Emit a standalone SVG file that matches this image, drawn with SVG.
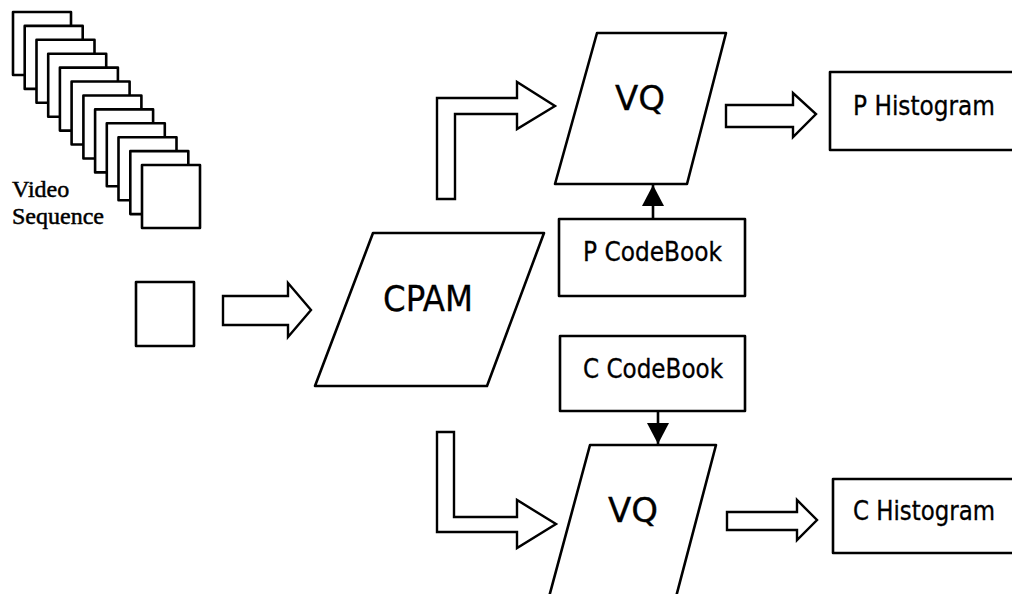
<svg xmlns="http://www.w3.org/2000/svg" width="1012" height="594" viewBox="0 0 1012 594">
  <style>
    .shape { fill: #fff; stroke: #000; stroke-width: 2.6; stroke-linejoin: round; }
    .block { fill: #fff; stroke: #000; stroke-width: 2.4; stroke-linejoin: miter; }
    .line { fill: none; stroke: #000; stroke-width: 2.6; }
    .lbl { font-family: "DejaVu Sans Condensed", "DejaVu Sans", Tahoma, sans-serif; fill: #000; stroke: #000; stroke-width: 0.3; }
    .serif { font-family: "Liberation Serif", "Times New Roman", serif; font-size: 24px; fill: #000; stroke: #000; stroke-width: 0.5; }
  </style>
  <defs>
    <marker id="head" markerUnits="userSpaceOnUse" markerWidth="22" markerHeight="22" refX="21" refY="11" orient="auto">
      <path d="M0,0 L21,11 L0,22 Z" fill="#000"/>
    </marker>
  </defs>

  <rect width="1012" height="594" fill="#fff"/>

  <!-- stack of video frames -->
  <g id="video-sequence">
    <rect class="shape" x="13" y="12" width="58" height="63"/>
    <rect class="shape" x="24.7" y="25.9" width="58" height="63"/>
    <rect class="shape" x="36.5" y="39.8" width="58" height="63"/>
    <rect class="shape" x="48.2" y="53.7" width="58" height="63"/>
    <rect class="shape" x="59.9" y="67.6" width="58" height="63"/>
    <rect class="shape" x="71.6" y="81.5" width="58" height="63"/>
    <rect class="shape" x="83.4" y="95.5" width="58" height="63"/>
    <rect class="shape" x="95.1" y="109.4" width="58" height="63"/>
    <rect class="shape" x="106.8" y="123.3" width="58" height="63"/>
    <rect class="shape" x="118.5" y="137.2" width="58" height="63"/>
    <rect class="shape" x="130.3" y="151.1" width="58" height="63"/>
    <rect class="shape" x="142" y="165" width="58" height="63"/>
    <text class="serif" x="12" y="197">Video</text>
    <text class="serif" x="12" y="224">Sequence</text>
  </g>

  <!-- single frame -->
  <g id="frame">
    <rect class="shape" x="136" y="282" width="58" height="64"/>
  </g>

  <g id="cpam">
    <polygon class="shape" points="373,233 544,233 487,386 315,386"/>
    <text class="lbl" x="383" y="311" font-size="36" textLength="90" lengthAdjust="spacingAndGlyphs">CPAM</text>
  </g>

  <g id="vq-p">
    <polygon class="shape" points="597,33 726,33 687,184 555,184"/>
    <text class="lbl" x="615" y="110" font-size="34" textLength="50" lengthAdjust="spacingAndGlyphs">VQ</text>
  </g>

  <g id="vq-c">
    <polygon class="shape" points="590,445 716,445 676,597 549,597"/>
    <text class="lbl" x="608" y="522" font-size="34" textLength="50" lengthAdjust="spacingAndGlyphs">VQ</text>
  </g>

  <g id="p-codebook">
    <rect class="shape" x="559" y="219" width="186" height="77"/>
    <text class="lbl" x="583" y="261" font-size="26" textLength="139" lengthAdjust="spacingAndGlyphs">P CodeBook</text>
  </g>

  <g id="c-codebook">
    <rect class="shape" x="560" y="336" width="185" height="75"/>
    <text class="lbl" x="583" y="378" font-size="26" textLength="140" lengthAdjust="spacingAndGlyphs">C CodeBook</text>
  </g>

  <g id="p-histogram">
    <rect class="shape" x="830" y="72" width="184" height="78"/>
    <text class="lbl" x="853" y="115" font-size="27" textLength="142" lengthAdjust="spacingAndGlyphs">P Histogram</text>
  </g>

  <g id="c-histogram">
    <rect class="shape" x="833" y="479" width="181" height="74"/>
    <text class="lbl" x="853" y="520" font-size="27" textLength="142" lengthAdjust="spacingAndGlyphs">C Histogram</text>
  </g>

  <g id="connectors">
    <!-- frame to CPAM -->
    <polygon class="block" points="223,296 288,296 288,283 311,310 288,337 288,325 223,325"/>
    <!-- CPAM up to VQ (P) -->
    <polygon class="block" points="437,199 437,98 517,98 517,82 555,106 517,129 517,114 455,114 455,199"/>
    <!-- CPAM down to VQ (C) -->
    <polygon class="block" points="437,432 454,432 454,517 517,517 517,500 556,524 517,548 517,532 437,532"/>
    <!-- VQ (P) to P Histogram -->
    <polygon class="block" points="726,105 793,105 793,93 816,114 793,137 793,127 726,127"/>
    <!-- VQ (C) to C Histogram -->
    <polygon class="block" points="727,512 797,512 797,500 817,520 797,540 797,530 727,530"/>
    <!-- codebooks feeding the quantisers -->
    <line class="line" x1="653" y1="219" x2="653" y2="185" marker-end="url(#head)"/>
    <line class="line" x1="658" y1="411" x2="658" y2="444" marker-end="url(#head)"/>
  </g>
</svg>
